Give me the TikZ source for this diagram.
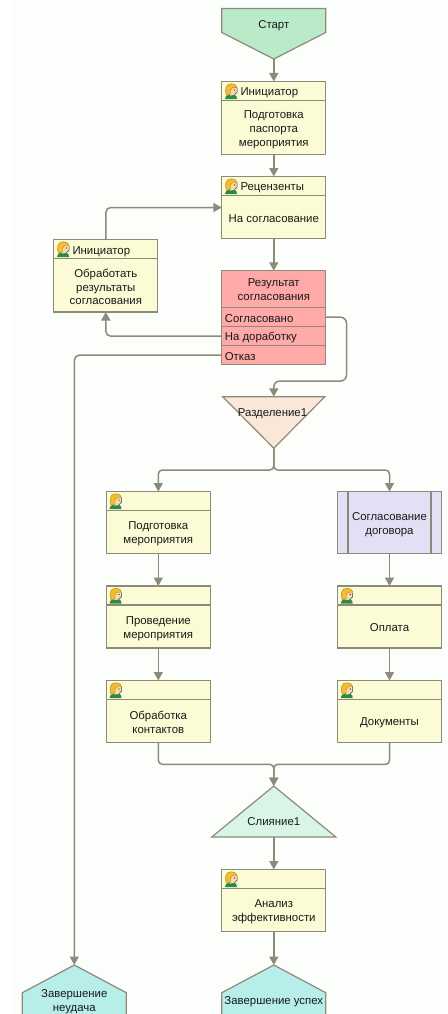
\documentclass[tikz,border=0pt]{standalone}
\usepackage{fontspec}
\setmainfont{Liberation Sans}
\usetikzlibrary{arrows.meta,calc}
\definecolor{edgec}{HTML}{8E8A7A}
\definecolor{taskc}{HTML}{FBFBD6}
\definecolor{startc}{HTML}{B9EBC9}
\definecolor{redc}{HTML}{FFA9A9}
\definecolor{splitc}{HTML}{FAE7D8}
\definecolor{subc}{HTML}{E2E0F5}
\definecolor{mergec}{HTML}{D9F5E6}
\definecolor{endc}{HTML}{B8EEEA}
\definecolor{bgc}{HTML}{FCFEFC}
\definecolor{hairc}{HTML}{F0BE30}
\definecolor{hairdk}{HTML}{B8801A}
\definecolor{skinc}{HTML}{FBD8B0}
\definecolor{shirtc}{HTML}{2C8A48}
\tikzset{
  x=1pt,y=-1pt,
  every node/.style={font=\fontsize{11.4}{13.8}\selectfont,align=center,inner sep=0pt,outer sep=0pt,text=black!90},
  boxbase/.style={draw=edgec,line width=1.2pt,minimum width=104pt},
  task/.style={boxbase,fill=taskc},
  redbox/.style={boxbase,fill=redc},
  ghost/.style={minimum width=104pt},
  head/.style={anchor=west},
  port/.style={anchor=west},
  flow/.style={draw=edgec,line width=1.5pt,rounded corners=5pt,-{Triangle[length=8.5pt,width=9pt]}},
  link/.style={draw=edgec,line width=1.5pt,rounded corners=5pt},
  shapeline/.style={draw=edgec,line width=1.2pt,line join=miter},
  person/.pic={
    \fill[shirtc] (-6.5,8) .. controls (-6,4.5) and (-4,3.5) .. (-2,3.5) -- (3,3.5) .. controls (5,4) and (5.5,6) .. (5.5,8) -- cycle;
    \fill[skinc] (-3.5,-4.5) -- (5.5,-4.5) -- (5.5,1) -- (3,3.5) -- (-1.5,4.5) -- cycle;
    \fill[hairc,draw=hairdk,line width=.4pt] (-5,4) .. controls (-7,0) and (-6.5,-8) .. (0,-7.5) .. controls (3,-7.5) and (5.5,-6) .. (5.5,-3.5) -- (1,-3.5) -- (-1,-1) -- (-1,3) -- cycle;
    \draw[black!75,line width=.5pt] (5.5,-3) -- (5.5,1) -- (3,3.5);
    \fill[black!80!green] (3,-1.2) circle (.7);
  }
}
\newcommand{\taskhead}[1]{%
  \draw[draw=edgec,line width=1.2pt] (#1.north west) ++(0,19) -- ++(104,0);
  \pic at ($(#1.north west)+(9.7,9.7)$) {person};
}
\begin{document}
\begin{tikzpicture}
\useasboundingbox (0,0) rectangle (447,1014);
\fill[white] (0,0) rectangle (447,1014);
\fill[bgc] (11,0) rectangle (447,1014);
\clip (0,0) rectangle (447,1014);

% Start
\node[ghost,minimum height=50.5pt] (start) at (273.8,33.75) {};
\path[shapeline,fill=startc] (start.north west) -- (start.north east) -- ++(0,24) -- (start.south) -- ($(start.north west)+(0,24)$) -- cycle;
\node (startt) at (273.8,25.8) {Старт};

% Tasks
\node[task,minimum height=73pt] (t1) at (273.8,118) {};
\node[task,minimum height=62pt] (t2) at (273.8,207.5) {};
\node[task,minimum height=72.5pt] (t3) at (105.8,275.75) {};
\node[task,minimum height=62pt] (a1) at (158.3,522.5) {};
\node[task,minimum height=62pt] (a2) at (158.3,617) {};
\node[task,minimum height=62pt] (a3) at (158.3,711.5) {};
\node[boxbase,fill=subc,minimum height=62pt] (b1) at (389.5,522.5) {};
\node[task,minimum height=62pt] (b2) at (389.5,617) {};
\node[task,minimum height=62pt] (b3) at (389.5,711.5) {};
\node[task,minimum height=62pt] (an) at (273.8,900.5) {};
\draw[draw=edgec,line width=1.2pt] ($(b1.north west)+(10.5,0)$) -- ($(b1.south west)+(10.5,0)$);
\draw[draw=edgec,line width=1.2pt] ($(b1.north east)+(-10.5,0)$) -- ($(b1.south east)+(-10.5,0)$);
\foreach \n in {t1,t2,t3,a1,a2,a3,b2,b3,an}{\taskhead{\n}}

\node[head] (h1) at (240.5,93) {Инициатор};
\node at (273.8,129.5) (t1t) {Подготовка\\паспорта\\мероприятия};
\node[head] (h2) at (240.5,188) {Рецензенты};
\node at (273.8,218.5) (t2t) {На согласование};
\node[head] (h3) at (72.5,251.5) {Инициатор};
\node at (105.8,287) (t3t) {Обработать\\результаты\\согласования};
\node at (158.3,533.5) (a1t) {Подготовка\\мероприятия};
\node at (158.3,628.5) (a2t) {Проведение\\мероприятия};
\node at (158.3,722.5) (a3t) {Обработка\\контактов};
\node at (389.5,524.5) (b1t) {Согласование\\договора};
\node at (389.5,628) (b2t) {Оплата};
\node at (389.5,722.5) (b3t) {Документы};
\node at (273.8,911.5) (ant) {Анализ\\эффективности};

% Result
\node[redbox,minimum height=93.5pt] (r) at (273.8,317.5) {};
\node[redbox,minimum height=19pt] (ra) at (273.8,317.2) {};
\node[redbox,minimum height=19pt] (rb) at (273.8,336.2) {};
\node[redbox,minimum height=19pt] (rc) at (273.8,355.2) {};
\node at (273.8,289.5) (rt) {Результат\\согласования};
\node[port] (rat) at (224.8,318.5) {Согласовано};
\node[port] (rbt) at (224.8,337.5) {На доработку};
\node[port] (rct) at (224.8,356.5) {Отказ};

% Split
\node[minimum width=102pt,minimum height=51.5pt] (sp) at (273.8,422.5) {};
\path[shapeline,fill=splitc] (sp.north west) -- (sp.north east) -- (sp.south) -- cycle;
\node (spt) at (272.5,414) {Разделение1};

% Merge
\node[minimum width=124pt,minimum height=51pt] (mg) at (273.8,811.5) {};
\path[shapeline,fill=mergec] (mg.south west) -- (mg.south east) -- (mg.north) -- cycle;
\node (mgt) at (273.8,822) {Слияние1};

% Ends
\node[ghost,minimum height=50pt] (e1) at (74.3,990) {};
\node[ghost,minimum height=50pt] (e2) at (273.8,990) {};
\foreach \n in {e1,e2}{
  \path[shapeline,fill=endc] (\n.north) -- ($(\n.north east)+(0,27.7)$) -- ($(\n.south east)+(0,5)$) -- ($(\n.south west)+(0,5)$) -- ($(\n.north west)+(0,27.7)$) -- cycle;
}
\node at (74.3,1001.5) (e1t) {Завершение\\неудача};
\node at (273.8,1001.5) (e2t) {Завершение успех};

% Connectors
\coordinate (tipa) at (273.8,470);
\coordinate (tipb) at (273.8,764.3);
\draw[flow] (start.south) -- (t1.north);
\draw[flow] (t1.south) -- (t2.north);
\draw[flow] (t2.south) -- (r.north);
\draw[flow] (t3.north) |- (t2.west);
\draw[flow] (rb.west) -| (t3.south);
\draw[flow] (rc.west) -| (e1.north);
\draw[flow,rounded corners=6pt] (ra.east) -| (346.5,381) -| (sp.north);
\draw[flow,rounded corners=4pt] (sp.south) -- (tipa) -| (a1.north);
\draw[flow,rounded corners=4pt] (sp.south) -- (tipa) -| (b1.north);
\draw[flow] (a1.south) -- (a2.north);
\draw[flow] (a2.south) -- (a3.north);
\draw[flow] (b1.south) -- (b2.north);
\draw[flow] (b2.south) -- (b3.north);
\draw[flow,rounded corners=4pt] (a3.south) |- (tipb) -- (mg.north);
\draw[flow,rounded corners=4pt] (b3.south) |- (tipb) -- (mg.north);
\draw[flow] (mg.south) -- (an.north);
\draw[flow] (an.south) -- (e2.north);
\end{tikzpicture}
\end{document}
